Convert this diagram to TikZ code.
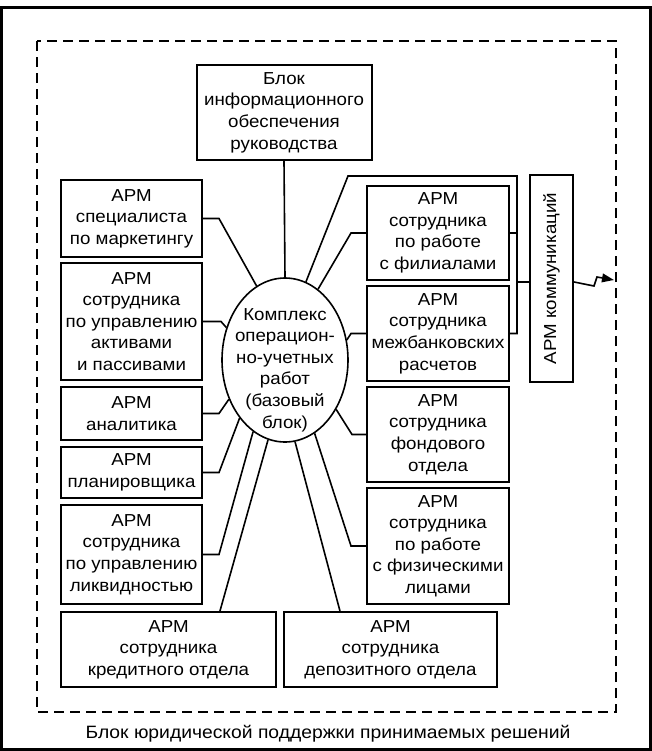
\documentclass[tikz,border=0pt]{standalone}
\usepackage{fontspec}
\setmainfont{Liberation Sans}[FakeStretch=1.08]
\usetikzlibrary{arrows.meta,shapes.geometric}
\begin{document}
\begin{tikzpicture}[x=0.75pt,y=-0.75pt,
  txt/.style={font=\fontsize{13}{16.2}\selectfont},
  box/.style={txt,draw,line width=1.5pt,inner sep=0pt,align=center},
  lbox/.style={box,minimum width=105.75pt},
  rbox/.style={box,minimum width=106.5pt},
  conn/.style={line width=1.2pt}]
\useasboundingbox (0,0) rectangle (652,751);
\draw[line width=1.8pt] (1.5,7.5) rectangle (650.5,749.5);
\draw[line width=1.2pt,dash pattern=on 7.5pt off 4.5pt] (37,41) rectangle (616,712);

\node[box,minimum width=131.25pt,minimum height=71.25pt] (T) at (284,112.5)
  {Блок\\информационного\\обеспечения\\руководства};

\node[lbox,minimum height=57.75pt] (L1) at (131.5,218.5) {АРМ\\специалиста\\по маркетингу};
\node[lbox,minimum height=87.75pt] (L2) at (131.5,321.5) {АРМ\\сотрудника\\по управлению\\активами\\и пассивами};
\node[lbox,minimum height=39.75pt] (L3) at (131.5,413.5) {АРМ\\аналитика};
\node[lbox,minimum height=38.25pt] (L4) at (131.5,472.5) {АРМ\\планировщика};
\node[lbox,minimum height=74.25pt] (L5) at (131.5,554.5) {АРМ\\сотрудника\\по управлению\\ликвидностью};

\node[box,minimum width=161.25pt,minimum height=56.25pt] (B1) at (168.5,649.5) {АРМ\\сотрудника\\кредитного отдела};
\node[box,minimum width=159.75pt,minimum height=56.25pt] (B2) at (390.5,649.5) {АРМ\\сотрудника\\депозитного отдела};

\node[rbox,minimum height=70.5pt] (R1) at (438,233) {АРМ\\сотрудника\\по работе\\с филиалами};
\node[rbox,minimum height=71.25pt] (R2) at (438,333.5) {АРМ\\сотрудника\\межбанковских\\расчетов};
\node[rbox,minimum height=71.25pt] (R3) at (438,434.5) {АРМ\\сотрудника\\фондового\\отдела};
\node[rbox,minimum height=87pt] (R4) at (438,546) {АРМ\\сотрудника\\по работе\\с физическими\\лицами};

\node[box,rotate=90,minimum width=155.25pt,minimum height=32.25pt] (C) at (551.5,278.5) {АРМ коммуникаций};

\node[draw,ellipse,line width=1.2pt,inner sep=0pt,
  minimum width=94.5pt,minimum height=123pt] (E) at (285,360) {};
\node[txt,align=center,inner sep=0pt] (Et) at (285,370)
  {Комплекс\\операцион-\\но-учетных\\работ\\(базовый\\блок)};

\node[font=\fontsize{13.4}{16}\selectfont] (legal) at (328,734) {Блок юридической поддержки принимаемых решений};

% connectors
\draw[conn] (T.south) -- (E.north);
\draw[conn] (L1.east) -- ++(16,0) -- (E.111);
\draw[conn] (L2.east) -- ++(18,0) -- (E.151);
\draw[conn] (L3.east) -- ++(16,0) -- (E.215);
\draw[conn] (L4.east) -- ++(16,0) -- (E.232);
\draw[conn] (L5.east) -- ++(16,0) -- (E.246);
\draw[conn] (E.258) -- ([xshift=38.6pt]B1.north);
\draw[conn] (E.277) -- ([xshift=-37.9pt]B2.north);
\draw[conn] (R4.west) -- ++(-15,0) -- (E.292);
\draw[conn] (R3.west) -- ++(-14,0) -- (E.316);
\draw[conn] (R2.west) -- ++(-15,0) -- (E.18);
\draw[conn] (R1.west) -- ++(-15,0) -- (E.65);

\coordinate (brtop) at (348,176);
\coordinate (brc) at (517,176);
\draw[conn] (E.75) -- (brtop) -- (brc) |- (R2.east);
\draw[conn] (R1.east) -- (R1.east -| brc);
\draw[conn] ([yshift=-2.6pt]C.north) -- ([yshift=-2.6pt]C.north -| brc);

\coordinate (zz1) at (594,286);
\coordinate (zz2) at (597,277);
\coordinate (arr) at (614,280);
\draw[conn,-{Triangle[length=9pt,width=6.5pt]}] ([yshift=-2.6pt]C.south) -- (zz1) -- (zz2) -- (arr);
\end{tikzpicture}
\end{document}
